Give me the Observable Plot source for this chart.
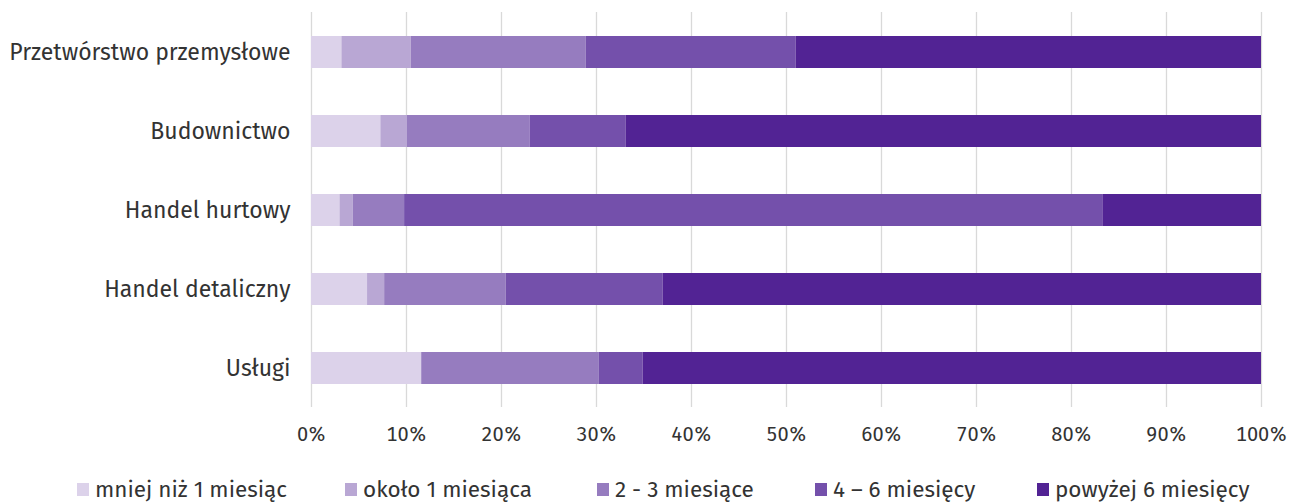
<!DOCTYPE html>
<html>
<head>
<meta charset="utf-8">
<script src="https://cdn.jsdelivr.net/npm/d3@7"></script>
<script src="https://cdn.jsdelivr.net/npm/@observablehq/plot@0.6"></script>
<style>
  html, body { margin: 0; padding: 0; background: #fff; }
  body { width: 1290px; height: 502px; overflow: hidden; font-family: "Fira Sans", "Open Sans", "Noto Sans", sans-serif; }
  #legend { position: relative; height: 52px; font-size: 22.5px; color: #333; }
  .item { position: absolute; top: 26px; display: flex; align-items: center; white-space: nowrap; }
  .sw { width: 12px; height: 13px; margin-right: 6px; }
</style>
</head>
<body>
<div id="chart"></div>
<div id="legend"></div>
<script>
const sectors = ["Przetwórstwo przemysłowe", "Budownictwo", "Handel hurtowy", "Handel detaliczny", "Usługi"];
const categories = ["mniej niż 1 miesiąc", "około 1 miesiąca", "2 - 3 miesiące", "4 – 6 miesięcy", "powyżej 6 miesięcy"];
const colors = ["#dcd2ea", "#b9a7d4", "#967cbf", "#7450ab", "#522394"];
const lessThan1 = [3.2, 7.3, 3.0, 5.9, 11.6];
const about1 = [7.3, 2.8, 1.4, 1.8, 0.0];
const months2to3 = [18.4, 12.9, 5.4, 12.8, 18.7];
const months4to6 = [22.1, 10.1, 73.5, 16.5, 4.6];
const over6 = [49.0, 66.9, 16.7, 63.0, 65.1];
const xTicks = [0, 10, 20, 30, 40, 50, 60, 70, 80, 90, 100];

const series = [lessThan1, about1, months2to3, months4to6, over6];
const rows = [];
sectors.forEach((s, i) => {
  categories.forEach((c, j) => rows.push({sector: s, cat: c, value: series[j][i]}));
});

const plot = Plot.plot({
  width: 1290,
  height: 450,
  marginLeft: 311,
  marginRight: 29,
  marginTop: 12,
  marginBottom: 43,
  style: {fontFamily: '"Fira Sans", "Open Sans", "Noto Sans", sans-serif', color: "#333", background: "#fff"},
  x: {domain: [0, 100], label: null},
  y: {domain: sectors, label: null, paddingInner: 0.6, paddingOuter: 0.3},
  color: {domain: categories, range: colors},
  marks: [
    Plot.ruleX(xTicks, {stroke: "#d9d9d9", strokeWidth: 1.3}),
    Plot.barX(rows, Plot.stackX({x: "value", y: "sector", fill: "cat", order: categories})),
    Plot.axisX({ticks: xTicks, tickFormat: d => d + "%", tickSize: 0, tickPadding: 19, fontSize: 20, label: null}),
    Plot.axisY({tickSize: 0, tickPadding: 21, fontSize: 23, label: null})
  ]
});
document.getElementById("chart").appendChild(plot);

const legend = document.getElementById("legend");
const lefts = [77, 345, 597, 815, 1037];
categories.forEach((c, i) => {
  const it = document.createElement("div");
  it.className = "item";
  it.style.left = lefts[i] + "px";
  const sw = document.createElement("span");
  sw.className = "sw";
  sw.style.background = colors[i];
  const t = document.createElement("span");
  t.textContent = c;
  it.appendChild(sw);
  it.appendChild(t);
  legend.appendChild(it);
});
</script>
</body>
</html>
